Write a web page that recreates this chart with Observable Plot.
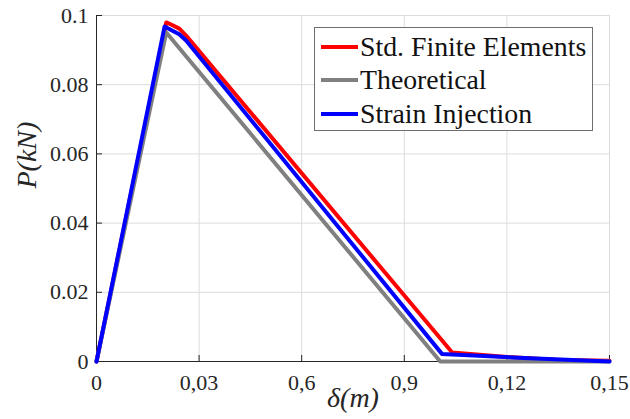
<!DOCTYPE html>
<html>
<head>
<meta charset="utf-8">
<script src="https://cdn.jsdelivr.net/npm/d3@7"></script>
<script src="https://cdn.jsdelivr.net/npm/@observablehq/plot@0.6"></script>
<style>
  html, body { margin: 0; padding: 0; background: #fff; }
  #wrap { position: relative; width: 630px; height: 419px; font-family: 'Liberation Serif', serif; }
  #wrap svg, #wrap svg text { font-family: 'Liberation Serif', serif !important; }
  #legend { position: absolute; left: 314px; top: 27px; width: 279px; height: 104px; box-sizing: border-box;
    border: 1px solid #6e6e6e; background: #fff; padding-top: 2px; font-family: 'Liberation Serif', serif; }
  .row { display: flex; align-items: center; height: 33.5px; font-size: 27.8px; color: #111; white-space: nowrap; }
  .sw { width: 37px; height: 4px; margin-left: 6px; margin-right: 2px; }
</style>
</head>
<body>
<div id="wrap"></div>
<script>
const xTicks = [0, 0.03, 0.06, 0.09, 0.12, 0.15];
const xTickLabels = ["0", "0,03", "0,6", "0,9", "0,12", "0,15"];
const yTicks = [0, 0.02, 0.04, 0.06, 0.08, 0.1];
const yTickLabels = ["0", "0.02", "0.04", "0.06", "0.08", "0.1"];

const seriesNames = ["Std. Finite Elements", "Theoretical", "Strain Injection"];
const seriesColors = ["#ff0000", "#808080", "#0000ff"];

const stdX = [0, 0.0204, 0.0218, 0.0242, 0.0262, 0.104, 0.120, 0.135, 0.15];
const stdY = [0, 0.0980, 0.0974, 0.0962, 0.0942, 0.0026, 0.0013, 0.0004, 0.0002];
const theoX = [0, 0.0204, 0.1005, 0.15];
const theoY = [0, 0.0951, 0, 0];
const injX = [0, 0.0199, 0.0218, 0.0242, 0.0262, 0.1010, 0.125, 0.15];
const injY = [0, 0.0968, 0.0958, 0.0946, 0.0928, 0.0022, 0.0010, 0];

const rows = (xs, ys, name) => xs.map((x, i) => ({x, y: ys[i], name}));
const data = [
  ...rows(stdX, stdY, seriesNames[0]),
  ...rows(theoX, theoY, seriesNames[1]),
  ...rows(injX, injY, seriesNames[2])
];

const axisColor = "#262626";
const chart = Plot.plot({
  width: 630,
  height: 419,
  marginLeft: 96,
  marginRight: 21,
  marginTop: 15,
  marginBottom: 58,
  style: "font-family: 'Liberation Serif', serif; font-size: 22px; background: #fff; color: #262626; overflow: visible;",
  x: { domain: [0, 0.15], label: null },
  y: { domain: [0, 0.1], label: null },
  color: { domain: seriesNames, range: seriesColors },
  marks: [
    Plot.gridX(xTicks, { stroke: "#dcdcdc", strokeOpacity: 1 }),
    Plot.gridY(yTicks, { stroke: "#dcdcdc", strokeOpacity: 1 }),
    Plot.ruleY([0], { stroke: axisColor }),
    Plot.ruleX([0], { stroke: axisColor }),
    Plot.axisX({ ticks: xTicks, tickFormat: d => xTickLabels[xTicks.indexOf(d)], tickSize: -6, tickPadding: 19, fontSize: 22 }),
    Plot.axisY({ ticks: yTicks, tickFormat: d => yTickLabels[yTicks.indexOf(d)], tickSize: -6, tickPadding: 14, fontSize: 22 }),
    Plot.line(data, { x: "x", y: "y", z: "name", stroke: "name", strokeWidth: 4, strokeLinejoin: "round" }),
    Plot.text(["δ(m)"], { frameAnchor: "bottom", dy: 45, fontSize: 28, fontStyle: "italic", fill: axisColor }),
    Plot.text(["P(kN)"], { frameAnchor: "left", dx: -69, rotate: -90, fontSize: 28, fontStyle: "italic", fill: axisColor })
  ]
});

const wrap = document.getElementById("wrap");
wrap.appendChild(chart);
const legend = document.createElement("div");
legend.id = "legend";
seriesNames.forEach((n, i) => {
  const r = document.createElement("div");
  r.className = "row";
  const sw = document.createElement("span");
  sw.className = "sw";
  sw.style.background = seriesColors[i];
  const t = document.createElement("span");
  t.textContent = n;
  r.appendChild(sw); r.appendChild(t);
  legend.appendChild(r);
});
wrap.appendChild(legend);
</script>
</body>
</html>
